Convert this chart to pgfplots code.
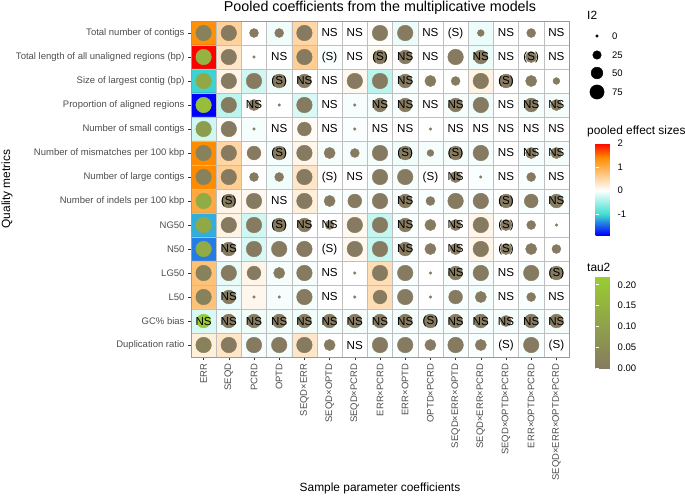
\documentclass[border=0pt]{standalone}
\usepackage{pgfplots}
\pgfplotsset{compat=1.18}
\usepackage{fontspec}
\setmainfont{Liberation Sans}
\definecolor{grey30}{RGB}{77,77,77}
\definecolor{grey20}{RGB}{51,51,51}
\newcommand{\fs}[1]{\fontsize{#1}{#1}\selectfont}
\pgfplotsset{
 colormap={effect}{rgb255(0cm)=(0,0,255); rgb255(0.9cm)=(64,224,208); rgb255(1.9cm)=(255,255,255); rgb255(3.3cm)=(255,140,0); rgb255(3.92cm)=(255,0,0)},
 colormap={tau}{rgb255(0cm)=(134,123,96); rgb255(1cm)=(154,205,50)}
}
\begin{document}
\begin{tikzpicture}
\useasboundingbox (0,0) rectangle (685pt,496pt);
\begin{axis}[
 at={(191pt,139pt)}, anchor=south west,
 scale only axis, width=378pt, height=336pt,
 xmin=-0.5, xmax=14.5, ymin=-0.5, ymax=13.5, y dir=reverse,
 enlargelimits=false,
 xtick={0,...,14}, ytick={0,...,13},
 xticklabels={ERR,SEQD,PCRD,OPTD,SEQD×ERR,SEQD×OPTD,SEQD×PCRD,ERR×PCRD,ERR×OPTD,OPTD×PCRD,SEQD×ERR×OPTD,SEQD×ERR×PCRD,SEQD×OPTD×PCRD,ERR×OPTD×PCRD,SEQD×ERR×OPTD×PCRD},
 yticklabels={Total number of contigs,Total length of all unaligned regions (bp),Size of largest contig (bp),Proportion of aligned regions,Number of small contigs,Number of mismatches per 100 kbp,Number of large contigs,Number of indels per 100 kbp,NG50,N50,LG50,L50,GC\% bias,Duplication ratio},
 xticklabel style={rotate=90, anchor=east, font=\fs{9.5}, text=grey30},
 yticklabel style={font=\fs{9.5}, text=grey30},
 tick pos=left, tick align=outside, major tick length=3pt,
 tick style={grey20, line width=0.5pt},
 minor xtick={0.5,1.5,...,13.5}, minor ytick={0.5,1.5,...,12.5},
 xminorgrids=true, yminorgrids=true, minor tick length=0pt,
 minor grid style={gray!50, line width=0.6pt},
 axis line style={gray!80, line width=0.8pt},
 axis on top,
 colormap name=effect, point meta min=-1.9, point meta max=2.02,
]
\addplot[matrix plot*, point meta=explicit, mesh/cols=15, mesh/rows=14] coordinates {
(0,0)[1.35] (1,0)[0.55] (2,0)[0] (3,0)[-0.08] (4,0)[0.5] (5,0)[0] (6,0)[0] (7,0)[0.02] (8,0)[-0.1] (9,0)[0] (10,0)[0] (11,0)[-0.1] (12,0)[0] (13,0)[0] (14,0)[0]
(0,1)[2.02] (1,1)[0.3] (2,1)[0] (3,1)[0] (4,1)[0.6] (5,1)[-0.03] (6,1)[0] (7,1)[0.05] (8,1)[0] (9,1)[0] (10,1)[0] (11,1)[-0.1] (12,1)[0] (13,1)[0] (14,1)[0]
(0,2)[-1.05] (1,2)[0.12] (2,2)[-0.25] (3,2)[-0.08] (4,2)[0] (5,2)[0] (6,2)[0.08] (7,2)[-0.35] (8,2)[-0.05] (9,2)[0] (10,2)[0] (11,2)[0.15] (12,2)[0] (13,2)[0] (14,2)[0]
(0,3)[-1.9] (1,3)[-0.35] (2,3)[0] (3,3)[0] (4,3)[-0.2] (5,3)[0] (6,3)[-0.05] (7,3)[-0.05] (8,3)[-0.03] (9,3)[0] (10,3)[-0.05] (11,3)[-0.08] (12,3)[0] (13,3)[-0.05] (14,3)[-0.05]
(0,4)[-0.25] (1,4)[0.02] (2,4)[-0.05] (3,4)[0] (4,4)[0.05] (5,4)[0] (6,4)[-0.02] (7,4)[0] (8,4)[0] (9,4)[0] (10,4)[0] (11,4)[0] (12,4)[0] (13,4)[0] (14,4)[0]
(0,5)[1.4] (1,5)[0.5] (2,5)[0.02] (3,5)[-0.05] (4,5)[0.12] (5,5)[-0.05] (6,5)[-0.05] (7,5)[-0.05] (8,5)[-0.08] (9,5)[-0.05] (10,5)[-0.05] (11,5)[-0.05] (12,5)[0] (13,5)[-0.05] (14,5)[-0.05]
(0,6)[1.4] (1,6)[0.6] (2,6)[0] (3,6)[-0.08] (4,6)[0.3] (5,6)[0] (6,6)[0] (7,6)[-0.03] (8,6)[-0.05] (9,6)[0] (10,6)[0] (11,6)[-0.03] (12,6)[0] (13,6)[-0.03] (14,6)[0]
(0,7)[1.05] (1,7)[0.12] (2,7)[0.08] (3,7)[0] (4,7)[0.2] (5,7)[-0.03] (6,7)[-0.03] (7,7)[-0.03] (8,7)[-0.03] (9,7)[-0.03] (10,7)[-0.03] (11,7)[-0.03] (12,7)[0] (13,7)[-0.03] (14,7)[-0.03]
(0,8)[-1.2] (1,8)[0.15] (2,8)[-0.25] (3,8)[-0.05] (4,8)[0] (5,8)[0] (6,8)[0.08] (7,8)[-0.3] (8,8)[-0.03] (9,8)[0] (10,8)[0] (11,8)[0.12] (12,8)[0] (13,8)[0] (14,8)[0]
(0,9)[-1.4] (1,9)[0] (2,9)[-0.2] (3,9)[-0.05] (4,9)[0] (5,9)[0] (6,9)[0.08] (7,9)[-0.3] (8,9)[-0.03] (9,9)[0] (10,9)[0] (11,9)[0.12] (12,9)[0] (13,9)[0] (14,9)[0]
(0,10)[0.75] (1,10)[-0.12] (2,10)[0.12] (3,10)[-0.05] (4,10)[-0.05] (5,10)[0] (6,10)[0] (7,10)[0.4] (8,10)[-0.03] (9,10)[0] (10,10)[-0.03] (11,10)[-0.05] (12,10)[0] (13,10)[-0.03] (14,10)[0]
(0,11)[0.75] (1,11)[-0.1] (2,11)[0.1] (3,11)[-0.05] (4,11)[-0.05] (5,11)[0] (6,11)[0] (7,11)[0.4] (8,11)[-0.03] (9,11)[0] (10,11)[-0.03] (11,11)[-0.05] (12,11)[0] (13,11)[-0.03] (14,11)[0]
(0,12)[-0.2] (1,12)[-0.08] (2,12)[-0.08] (3,12)[-0.08] (4,12)[-0.08] (5,12)[-0.05] (6,12)[-0.05] (7,12)[-0.05] (8,12)[-0.05] (9,12)[-0.05] (10,12)[-0.05] (11,12)[-0.05] (12,12)[-0.05] (13,12)[-0.05] (14,12)[-0.05]
(0,13)[0.2] (1,13)[0.3] (2,13)[-0.05] (3,13)[-0.05] (4,13)[0.3] (5,13)[0] (6,13)[0] (7,13)[-0.03] (8,13)[-0.03] (9,13)[0] (10,13)[-0.03] (11,13)[-0.03] (12,13)[0] (13,13)[-0.03] (14,13)[0]
};
\addplot[scatter, only marks, mark=*, colormap name=tau,
  point meta={-1.9+\thisrow{tau}*3.92/0.221},
  scatter/use mapped color={draw=mapped color, fill=mapped color},
  visualization depends on={sqrt(7.3+2.62*\thisrow{i2})/2 \as \rad},
  scatter/@pre marker code/.append style={/tikz/mark size=\rad pt}]
table {
x y i2 tau
0 0 90 0.02
1 0 90 0
2 0 28 0
3 0 28 0
4 0 90 0
7 0 90 0
8 0 90 0
11 0 15 0
13 0 28 0
0 1 90 0.15
1 1 90 0
2 1 0 0
4 1 90 0
7 1 70 0
8 1 70 0
10 1 90 0
11 1 70 0
13 1 45 0
0 2 90 0.12
1 2 90 0
2 2 90 0
3 2 70 0
4 2 70 0
6 2 90 0
7 2 90 0
8 2 70 0
9 2 45 0
10 2 28 0
11 2 90 0
12 2 70 0
13 2 45 0
14 2 15 0
0 3 90 0.18
1 3 90 0
2 3 45 0
3 3 0 0
4 3 90 0
6 3 0 0
7 3 70 0
8 3 70 0
10 3 70 0
11 3 90 0
13 3 70 0
14 3 45 0
0 4 90 0.09
1 4 90 0
2 4 0 0
4 4 70 0
6 4 0 0
9 4 0 0
0 5 90 0.02
1 5 90 0
2 5 70 0
3 5 70 0
4 5 90 0
5 5 45 0
6 5 28 0
7 5 90 0
8 5 70 0
9 5 15 0
10 5 70 0
11 5 90 0
13 5 45 0
14 5 45 0
0 6 90 0.02
1 6 90 0
2 6 28 0
3 6 28 0
4 6 90 0
7 6 90 0
8 6 90 0
10 6 45 0
11 6 0 0
13 6 28 0
0 7 90 0.13
1 7 70 0
2 7 90 0
4 7 90 0
5 7 45 0
6 7 70 0
7 7 90 0
8 7 70 0
9 7 28 0
10 7 90 0
11 7 90 0
12 7 70 0
13 7 70 0
14 7 70 0
0 8 90 0.12
1 8 90 0
2 8 90 0
3 8 70 0
4 8 70 0
5 8 28 0
6 8 90 0
7 8 90 0
8 8 70 0
9 8 45 0
10 8 45 0
11 8 90 0
12 8 45 0
13 8 28 0
14 8 0 0
0 9 90 0.13
1 9 70 0
2 9 90 0
3 9 90 0
4 9 90 0
6 9 90 0
7 9 90 0
8 9 70 0
9 9 45 0
10 9 45 0
11 9 90 0
12 9 45 0
13 9 45 0
14 9 28 0
0 10 90 0.02
1 10 90 0
2 10 70 0
3 10 45 0
4 10 90 0
6 10 0 0
7 10 90 0
8 10 90 0
9 10 0 0
10 10 70 0
11 10 90 0
13 10 90 0
14 10 70 0
0 11 90 0.02
1 11 70 0
2 11 0 0
3 11 0 0
4 11 90 0
6 11 0 0
7 11 70 0
8 11 90 0
9 11 0 0
10 11 70 0
11 11 45 0
13 11 28 0
0 12 70 0.21
1 12 70 0
2 12 70 0
3 12 70 0
4 12 70 0
5 12 70 0
6 12 70 0
7 12 70 0
8 12 70 0
9 12 70 0
10 12 70 0
11 12 70 0
12 12 45 0
13 12 70 0
14 12 70 0
0 13 90 0.02
1 13 90 0
2 13 90 0
3 13 90 0
4 13 90 0
5 13 45 0
7 13 90 0
8 13 90 0
9 13 45 0
10 13 90 0
11 13 45 0
13 13 90 0
};
\addplot[only marks, mark=*, mark size=0pt, mark options={draw=none, fill=none},
  nodes near coords, point meta=explicit symbolic,
  nodes near coords style={anchor=center, inner sep=0pt, font=\fs{11.6}, text=black}]
table[meta=lab] {
x y lab
5 0 NS
6 0 NS
9 0 NS
10 0 (S)
12 0 NS
14 0 NS
3 1 NS
5 1 (S)
6 1 NS
7 1 (S)
8 1 NS
9 1 NS
11 1 NS
12 1 NS
13 1 (S)
14 1 NS
3 2 (S)
4 2 NS
5 2 NS
8 2 NS
12 2 (S)
2 3 NS
5 3 NS
7 3 NS
8 3 NS
9 3 NS
10 3 NS
12 3 NS
13 3 NS
14 3 NS
3 4 NS
5 4 NS
7 4 NS
8 4 NS
10 4 NS
11 4 NS
12 4 NS
13 4 NS
14 4 NS
3 5 (S)
8 5 (S)
10 5 (S)
12 5 NS
13 5 NS
14 5 NS
5 6 (S)
6 6 NS
9 6 (S)
10 6 NS
12 6 NS
14 6 NS
1 7 (S)
3 7 NS
8 7 NS
12 7 (S)
14 7 NS
3 8 (S)
4 8 NS
5 8 NS
8 8 NS
10 8 NS
12 8 (S)
1 9 NS
5 9 (S)
8 9 NS
10 9 NS
12 9 (S)
5 10 NS
10 10 NS
12 10 NS
14 10 (S)
1 11 NS
5 11 NS
12 11 NS
14 11 NS
0 12 NS
1 12 NS
2 12 NS
3 12 NS
4 12 NS
5 12 NS
6 12 NS
7 12 NS
8 12 NS
9 12 (S)
10 12 NS
11 12 NS
12 12 NS
13 12 NS
14 12 NS
6 13 NS
12 13 (S)
14 13 (S)
};
\end{axis}
% size legend
\begin{axis}[at={(587pt,400pt)}, anchor=south west, scale only axis, width=20pt, height=64pt,
 hide axis, clip=false, xmin=0, xmax=1, ymin=400, ymax=464]
\addplot[only marks, mark=*, black, mark size=1.35pt, nodes near coords={0}, nodes near coords style={anchor=west, xshift=15pt, inner sep=0pt, font=\fs{9.5}, text=black}] coordinates {(0.5,460)};
\addplot[only marks, mark=*, black, mark size=4.27pt, nodes near coords={25}, nodes near coords style={anchor=west, xshift=15pt, inner sep=0pt, font=\fs{9.5}, text=black}] coordinates {(0.5,441)};
\addplot[only marks, mark=*, black, mark size=5.88pt, nodes near coords={50}, nodes near coords style={anchor=west, xshift=15pt, inner sep=0pt, font=\fs{9.5}, text=black}] coordinates {(0.5,423)};
\addplot[only marks, mark=*, black, mark size=7.14pt, nodes near coords={75}, nodes near coords style={anchor=west, xshift=15pt, inner sep=0pt, font=\fs{9.5}, text=black}] coordinates {(0.5,404)};
\end{axis}
% effect colorbar
\begin{axis}[at={(587pt,261pt)}, anchor=south west, scale only axis, width=19pt, height=92pt,
 hide axis, xmin=0, xmax=1, ymin=0, ymax=1,
 colormap name=effect, point meta min=-1.9, point meta max=2.02,
 colorbar,
 colorbar style={at={(parent axis.south west)}, anchor=south west, scale only axis, width=19pt, height=92pt,
   ytick={-1,0,1,2}, yticklabels={-1,0,1,2}, yticklabel pos=right, ytick pos=both,
   axis line style={draw=none}, major tick length=3.5pt, tick align=inside,
   ytick style={white, line width=0.6pt}, yticklabel shift=3pt,
   yticklabel style={font=\fs{9.5}, text=black, anchor=west, inner sep=0pt}}]
\end{axis}
% tau colorbar
\begin{axis}[at={(587pt,128pt)}, anchor=south west, scale only axis, width=19pt, height=92pt,
 hide axis, xmin=0, xmax=1, ymin=0, ymax=1,
 colormap name=tau, point meta min=0, point meta max=0.221,
 colorbar,
 colorbar style={at={(parent axis.south west)}, anchor=south west, scale only axis, width=19pt, height=92pt,
   ytick={0,0.05,0.1,0.15,0.2}, yticklabels={0.00,0.05,0.10,0.15,0.20}, yticklabel pos=right, ytick pos=both,
   axis line style={draw=none}, major tick length=3.5pt, tick align=inside,
   ytick style={white, line width=0.6pt}, yticklabel shift=3pt,
   yticklabel style={font=\fs{9.5}, text=black, anchor=west, inner sep=0pt}}]
\end{axis}
\node[anchor=base, inner sep=0pt, font=\fs{14.3}] at (380pt,484pt) {Pooled coefficients from the multiplicative models};
\node[anchor=base, inner sep=0pt, font=\fs{11.9}] at (380pt,5pt) {Sample parameter coefficients};
\node[rotate=90, anchor=center, inner sep=0pt, font=\fs{11.9}] at (7pt,307pt) {Quality metrics};
\node[anchor=base west, inner sep=0pt, font=\fs{11.9}] at (587pt,476pt) {I2};
\node[anchor=base west, inner sep=0pt, font=\fs{11.9}] at (587pt,361pt) {pooled effect sizes};
\node[anchor=base west, inner sep=0pt, font=\fs{11.9}] at (587pt,225pt) {tau2};
\end{tikzpicture}
\end{document}
